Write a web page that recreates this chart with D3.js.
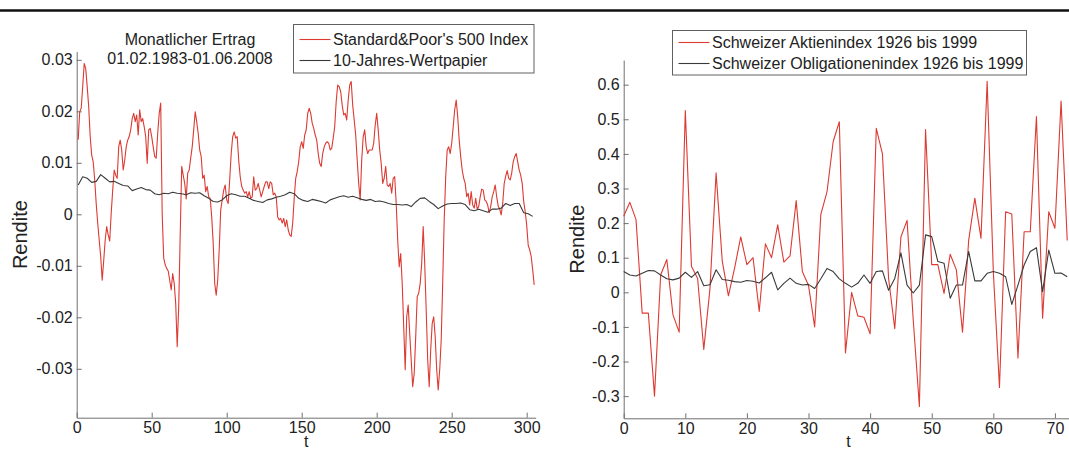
<!DOCTYPE html>
<html>
<head>
<meta charset="utf-8">
<script src="https://cdn.jsdelivr.net/npm/d3@7"></script>
<style>
  html, body { margin: 0; padding: 0; background: #fff; }
  svg { display: block; font-family: "Liberation Sans", Arial, sans-serif; }
</style>
</head>
<body>
<svg id="chart" width="1069" height="451"></svg>
<script>
// left panel: monthly returns, t = 1..305
const sp500 = [
  0.0145, 0.0199, 0.0206, 0.0248, 0.0293, 0.0283, 0.0248, 0.0209, 0.0151, 0.0115,
  0.0102, 0.0067, 0.0021, -0.0017, -0.0050, -0.0082, -0.0128, -0.0090, -0.0050, -0.0024,
  -0.0040, -0.0052, 0.0002, 0.0047, 0.0086, 0.0076, 0.0070, 0.0131, 0.0144, 0.0125,
  0.0086, 0.0105, 0.0131, 0.0144, 0.0151, 0.0164, 0.0186, 0.0196, 0.0180, 0.0193,
  0.0154, 0.0203, 0.0180, 0.0186, 0.0170, 0.0151, 0.0099, 0.0164, 0.0167, 0.0151,
  0.0131, 0.0112, 0.0109, 0.0157, 0.0196, 0.0216, 0.0000, -0.0085, -0.0098, -0.0105,
  -0.0110, -0.0128, -0.0147, -0.0115, -0.0134, -0.0173, -0.0257, -0.0180, -0.0040, 0.0093,
  0.0076, 0.0060, 0.0030, 0.0080, 0.0086, 0.0109, 0.0131, 0.0164, 0.0199, 0.0180,
  0.0157, 0.0125, 0.0112, 0.0070, 0.0076, 0.0044, 0.0054, 0.0034, 0.0031, -0.0005,
  -0.0056, -0.0134, -0.0157, -0.0128, -0.0069, 0.0008, 0.0028, 0.0047, 0.0057, 0.0028,
  0.0021, 0.0067, 0.0118, 0.0151, 0.0160, 0.0148, 0.0151, 0.0105, 0.0073, 0.0054,
  0.0047, 0.0041, 0.0044, 0.0034, 0.0044, 0.0031, 0.0034, 0.0073, 0.0047, 0.0050,
  0.0060, 0.0047, 0.0034, 0.0044, 0.0054, 0.0063, 0.0063, 0.0050, 0.0063, 0.0060,
  0.0038, 0.0041, 0.0034, -0.0005, -0.0011, -0.0008, -0.0017, -0.0008, -0.0024, -0.0011,
  -0.0030, -0.0040, -0.0043, -0.0017, 0.0031, 0.0070, 0.0083, 0.0102, 0.0131, 0.0141,
  0.0128, 0.0154, 0.0164, 0.0196, 0.0206, 0.0196, 0.0177, 0.0167, 0.0154, 0.0144,
  0.0118, 0.0099, 0.0093, 0.0118, 0.0131, 0.0138, 0.0141, 0.0138, 0.0125, 0.0128,
  0.0148, 0.0170, 0.0219, 0.0251, 0.0248, 0.0238, 0.0212, 0.0193, 0.0196, 0.0183,
  0.0222, 0.0251, 0.0258, 0.0212, 0.0183, 0.0154, 0.0105, 0.0060, 0.0028, 0.0105,
  0.0151, 0.0164, 0.0131, 0.0118, 0.0125, 0.0125, 0.0125, 0.0138, 0.0173, 0.0196,
  0.0164, 0.0125, 0.0099, 0.0060, 0.0070, 0.0093, 0.0057, 0.0054, 0.0060, 0.0041,
  0.0070, 0.0073, 0.0021, -0.0050, -0.0102, -0.0076, -0.0134, -0.0218, -0.0302, -0.0199,
  -0.0176, -0.0231, -0.0283, -0.0335, -0.0309, -0.0238, -0.0160, -0.0153, -0.0134, -0.0095,
  -0.0024, -0.0095, -0.0186, -0.0283, -0.0335, -0.0263, -0.0212, -0.0199, -0.0238, -0.0302,
  -0.0341, -0.0302, -0.0244, -0.0134, -0.0011, 0.0073, 0.0125, 0.0131, 0.0118, 0.0138,
  0.0170, 0.0203, 0.0222, 0.0190, 0.0144, 0.0112, 0.0086, 0.0070, 0.0060, 0.0034,
  0.0041, 0.0018, 0.0044, 0.0018, 0.0012, 0.0031, 0.0010, 0.0015, 0.0034, 0.0049,
  0.0047, 0.0028, 0.0025, 0.0018, 0.0003, 0.0015, 0.0034, 0.0044, 0.0057, 0.0034,
  0.0016, 0.0010, -0.0001, 0.0021, 0.0060, 0.0074, 0.0085, 0.0070, 0.0067, 0.0080,
  0.0102, 0.0112, 0.0118, 0.0102, 0.0086, 0.0076, 0.0060, 0.0025, 0.0005, -0.0021,
  -0.0060, -0.0069, -0.0082, -0.0108, -0.0137
];

// 10-year bond, read every third month
const bondMonths = d3.range(1, 305, 3);
const bond10y = [
  0.0057, 0.0073, 0.0070, 0.0062, 0.0064, 0.0077, 0.0070, 0.0063, 0.0064, 0.0060,
  0.0056, 0.0055, 0.0046, 0.0049, 0.0052, 0.0048, 0.0047, 0.0040, 0.0038, 0.0041,
  0.0040, 0.0043, 0.0041, 0.0040, 0.0038, 0.0042, 0.0041, 0.0042, 0.0036, 0.0031,
  0.0025, 0.0024, 0.0028, 0.0036, 0.0040, 0.0038, 0.0035, 0.0035, 0.0031, 0.0027,
  0.0025, 0.0023, 0.0028, 0.0030, 0.0033, 0.0035, 0.0038, 0.0043, 0.0040, 0.0031,
  0.0027, 0.0025, 0.0029, 0.0027, 0.0025, 0.0022, 0.0028, 0.0031, 0.0034, 0.0036,
  0.0033, 0.0035, 0.0032, 0.0029, 0.0027, 0.0029, 0.0025, 0.0026, 0.0024, 0.0021,
  0.0019, 0.0019, 0.0018, 0.0019, 0.0015, 0.0024, 0.0031, 0.0032, 0.0025, 0.0019,
  0.0011, 0.0016, 0.0020, 0.0021, 0.0021, 0.0022, 0.0019, 0.0009, 0.0007, 0.0010,
  0.0007, 0.0004, 0.0010, 0.0010, 0.0012, 0.0021, 0.0017, 0.0021, 0.0021, 0.0003,
  0.0001, -0.0004
];

// right panel: yearly returns 1926..1998 (t = 0..72)
const aktien = [
  0.22, 0.26, 0.21, -0.06, -0.06, -0.30, 0.05, 0.095, -0.065, -0.115,
  0.525, 0.075, 0.04, -0.165, 0.01, 0.345, 0.09, -0.01, 0.07, 0.16,
  0.08, 0.10, -0.055, 0.14, 0.10, 0.195, 0.087, 0.105, 0.265, 0.06,
  0.02, -0.10, 0.225, 0.29, 0.435, 0.493, -0.175, 0.0, -0.068, -0.072,
  -0.12, 0.474, 0.40, 0.04, -0.105, 0.16, 0.208, -0.08, -0.33, 0.47,
  0.08, 0.08, -0.003, 0.11, 0.065, -0.115, 0.15, 0.272, 0.156, 0.61,
  0.06, -0.275, 0.233, 0.226, -0.19, 0.175, 0.175, 0.508, -0.075, 0.233,
  0.185, 0.553, 0.15
];
const obligationen = [
  0.06, 0.05, 0.047, 0.055, 0.063, 0.062, 0.05, 0.039, 0.036, 0.041,
  0.058, 0.043, 0.06, 0.019, 0.022, 0.065, 0.037, 0.035, 0.031, 0.029,
  0.034, 0.032, 0.027, 0.042, 0.058, 0.007, 0.026, 0.041, 0.026, 0.021,
  0.023, 0.011, 0.039, 0.069, 0.06, 0.039, 0.026, 0.015, 0.026, 0.05,
  0.026, 0.06, 0.062, 0.006, 0.04, 0.114, 0.021, -0.002, 0.021, 0.166,
  0.161, 0.089, 0.084, -0.017, 0.021, 0.021, 0.118, 0.033, 0.033, 0.055,
  0.06, 0.055, 0.045, -0.035, 0.021, 0.079, 0.118, 0.129, 0.002, 0.122,
  0.055, 0.056, 0.045
];

const leftXTicks = [0, 50, 100, 150, 200, 250, 300];
const leftYTicks = [-0.03, -0.02, -0.01, 0, 0.01, 0.02, 0.03];
const leftYTickLabels = ["-0.03", "-0.02", "-0.01", "0", "0.01", "0.02", "0.03"];
const rightXTicks = [0, 10, 20, 30, 40, 50, 60, 70];
const rightYTicks = [-0.3, -0.2, -0.1, 0, 0.1, 0.2, 0.3, 0.4, 0.5, 0.6];
const rightYTickLabels = ["-0.3", "-0.2", "-0.1", "0", "0.1", "0.2", "0.3", "0.4", "0.5", "0.6"];
const leftLegend = ["Standard&Poor's 500 Index", "10-Jahres-Wertpapier"];
const rightLegend = ["Schweizer Aktienindex 1926 bis 1999", "Schweizer Obligationenindex 1926 bis 1999"];
const leftTitle = ["Monatlicher Ertrag", "01.02.1983-01.06.2008"];

const red = "#dc3a32";
const dark = "#3a3a3a";
const axisColor = "#707070";
const textColor = "#222";

const svg = d3.select("#chart");

// thick rule across the top
svg.append("line")
    .attr("x1", 0).attr("x2", 1069)
    .attr("y1", 10.5).attr("y2", 10.5)
    .attr("stroke", "#111")
    .attr("stroke-width", 2.6);

function drawPanel(p) {
    const g = svg.append("g");

    const xAxis = d3.axisBottom(p.x).tickValues(p.xTicks)
        .tickSizeInner(-5).tickSizeOuter(0).tickPadding(4);
    const yAxis = d3.axisLeft(p.y).tickValues(p.yTicks)
        .tickFormat((d, i) => p.yLabels[i])
        .tickSizeInner(-5).tickSizeOuter(0).tickPadding(4);

    g.append("g")
        .attr("transform", `translate(0, ${p.y.range()[0]})`)
        .call(xAxis);
    g.append("g")
        .attr("transform", `translate(${p.x.range()[0]}, 0)`)
        .call(yAxis);

    g.selectAll(".domain, .tick line")
        .attr("stroke", axisColor)
        .attr("stroke-width", 1);
    g.selectAll(".tick text")
        .attr("fill", textColor)
        .style("font-size", "16px")
        .style("font-family", '"Liberation Sans", Arial, sans-serif');

    p.series.forEach(s => {
        const line = d3.line()
            .x((d, i) => p.x(s.t[i]))
            .y(d => p.y(d));
        g.append("path")
            .datum(s.values)
            .attr("fill", "none")
            .attr("stroke", s.color)
            .attr("stroke-width", 1.1)
            .attr("stroke-linejoin", "round")
            .attr("d", line);
    });

    // axis labels
    g.append("text")
        .attr("transform", `translate(${p.yLabelX}, ${(p.y.range()[0] + p.y.range()[1]) / 2}) rotate(-90)`)
        .attr("text-anchor", "middle")
        .attr("fill", textColor)
        .style("font-size", "20px")
        .text("Rendite");
    g.append("text")
        .attr("x", (p.x.range()[0] + p.x.range()[1]) / 2)
        .attr("y", 447)
        .attr("text-anchor", "middle")
        .attr("fill", textColor)
        .style("font-size", "16px")
        .text("t");

    // legend
    const lg = p.legend;
    g.append("rect")
        .attr("x", lg.x).attr("y", lg.y)
        .attr("width", lg.w).attr("height", lg.h)
        .attr("fill", "#fff")
        .attr("stroke", "#606060")
        .attr("stroke-width", 1);
    p.series.forEach((s, i) => {
        const cy = lg.y + lg.first + i * lg.step;
        g.append("line")
            .attr("x1", lg.x + 6).attr("x2", lg.x + 37)
            .attr("y1", cy).attr("y2", cy)
            .attr("stroke", s.color)
            .attr("stroke-width", 1.1);
        g.append("text")
            .attr("x", lg.x + 39.5)
            .attr("y", cy + 5.5)
            .attr("fill", textColor)
            .style("font-size", "16px")
            .text(p.legendLabels[i]);
    });
}

const xLeft = d3.scaleLinear().domain([0, 306]).range([76.7, 535.7]);
const yLeft = d3.scaleLinear().domain([-0.0395, 0.0316]).range([417.7, 51.6]);

drawPanel({
    x: xLeft, y: yLeft,
    xTicks: leftXTicks, yTicks: leftYTicks, yLabels: leftYTickLabels,
    yLabelX: 27,
    series: [
        { t: sp500.map((d, i) => i + 1), values: sp500, color: red },
        { t: bondMonths, values: bond10y, color: dark }
    ],
    legendLabels: leftLegend,
    legend: { x: 293.5, y: 24.5, w: 240.5, h: 48.5, first: 15, step: 21 }
});

const xRight = d3.scaleLinear().domain([0, 73]).range([623.7, 1073.4]);
const yRight = d3.scaleLinear().domain([-0.364, 0.671]).range([418.3, 60.1]);

drawPanel({
    x: xRight, y: yRight,
    xTicks: rightXTicks, yTicks: rightYTicks, yLabels: rightYTickLabels,
    yLabelX: 584,
    series: [
        { t: aktien.map((d, i) => i), values: aktien, color: red },
        { t: obligationen.map((d, i) => i), values: obligationen, color: dark }
    ],
    legendLabels: rightLegend,
    legend: { x: 672.5, y: 30.5, w: 354, h: 44.5, first: 12, step: 21 }
});

// title text of the left panel
svg.selectAll(".title")
    .data(leftTitle)
    .enter()
    .append("text")
    .attr("class", "title")
    .attr("x", 190)
    .attr("y", (d, i) => 44.5 + i * 19.5)
    .attr("text-anchor", "middle")
    .attr("fill", textColor)
    .style("font-size", "16px")
    .text(d => d);
</script>
</body>
</html>
